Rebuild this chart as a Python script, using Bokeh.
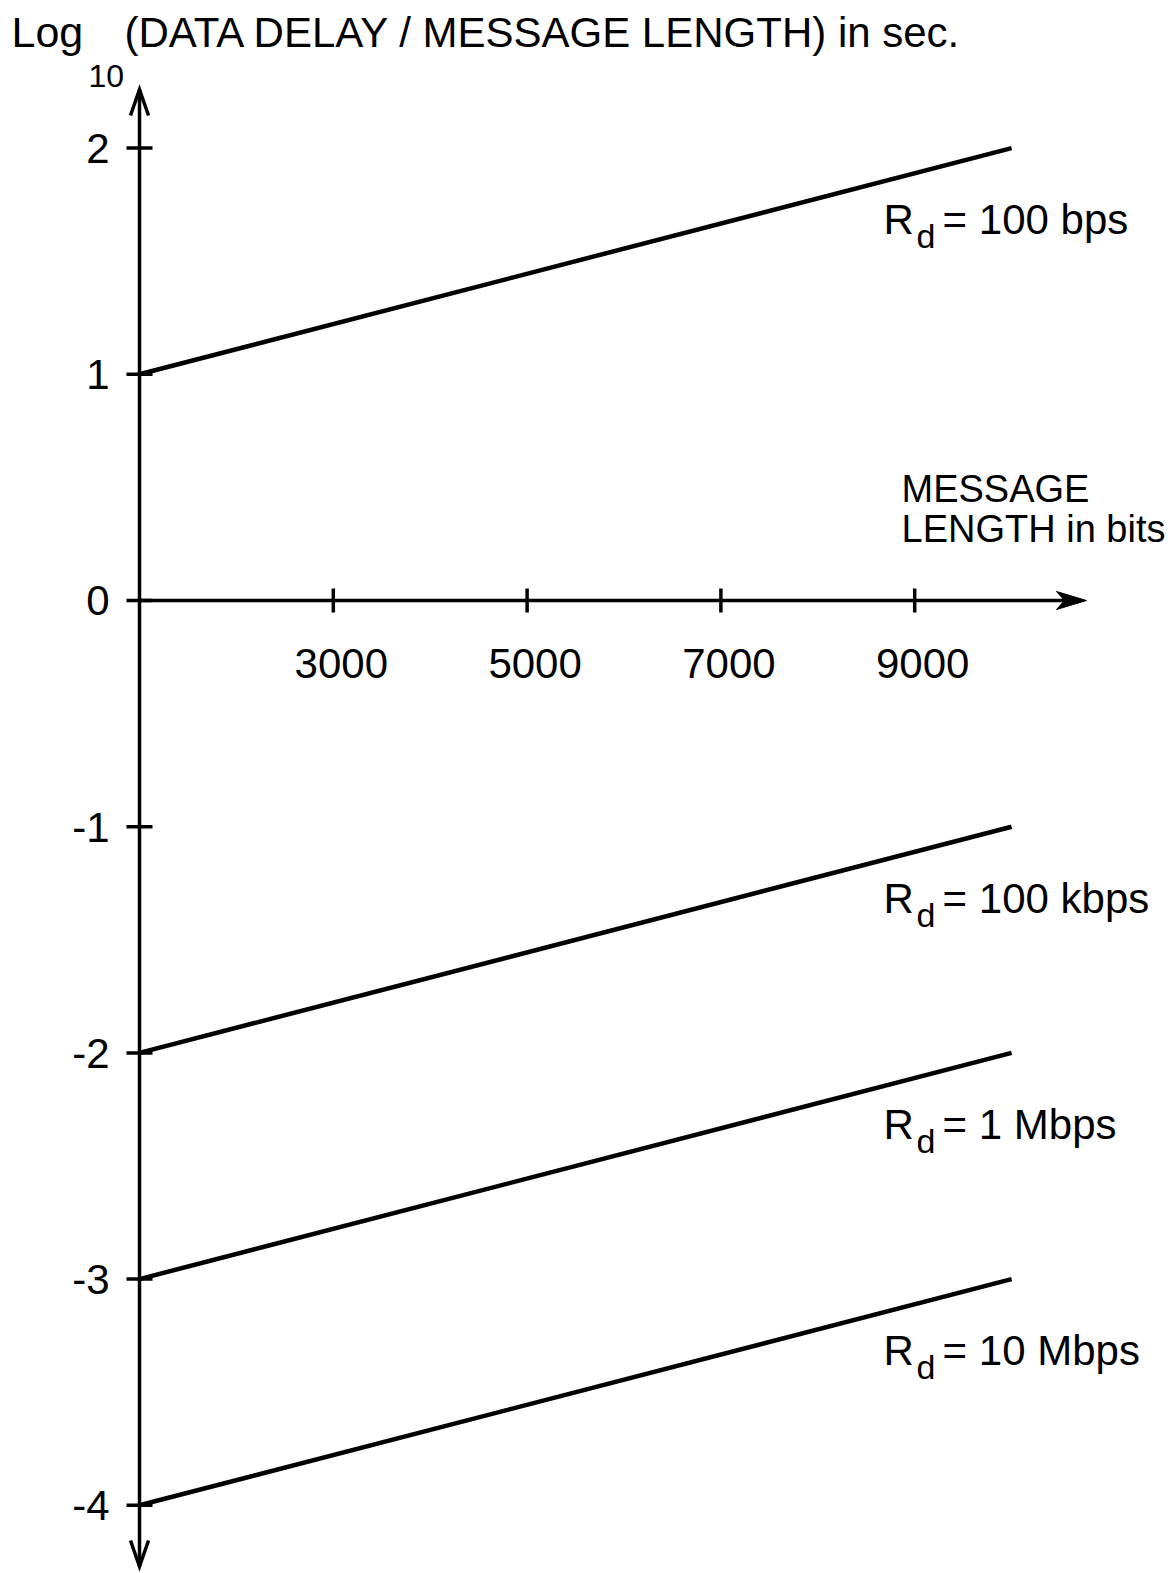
import numpy as np
from bokeh.plotting import figure
from bokeh.models import Range1d
from bokeh.embed import file_html
from bokeh.resources import INLINE
from bokeh.core.properties import value

# ---------------- data ----------------
msg_length = [1000, 10000]                      # bits (line start, line end)
rate_labels = ["= 100 bps", "= 100 kbps", "= 1 Mbps", "= 10 Mbps"]
log_start = [1, -2, -3, -4]                     # log10(delay/length) at 1000 bits
log_end = [2, -1, -2, -3]                       # log10(delay/length) at 10000 bits
x_ticks = [3000, 5000, 7000, 9000]
x_tick_labels = ["3000", "5000", "7000", "9000"]
y_ticks = [2, 1, 0, -1, -2, -3, -4]
y_tick_labels = ["2", "1", "0", "-1", "-2", "-3", "-4"]
title_log = "Log"
title_sub = "10"
title_main = "(DATA DELAY / MESSAGE LENGTH) in sec."
x_title = ["MESSAGE", "LENGTH in bits"]

# ---------------- layout (pixels) ----------------
W, H = 1175, 1573
XS = 0.0969          # px per bit
YS = 226.2           # px per log unit
AX_X_PX = 139        # px of the vertical axis (at 1000 bits)
AX_Y_PX = 600        # px of the horizontal axis (log = 0)
X_AXIS_AT = msg_length[0]
FONT = value("Liberation Sans")
BASE_FIX = 0.35      # em correction of the svg text baseline


def xd(px):
    return X_AXIS_AT + (px - AX_X_PX) / XS


def yd(py):
    return (AX_Y_PX - py) / YS


def base(y, size):
    # raise text so that its alphabetic baseline lands on y
    return y + BASE_FIX * size / YS


p = figure(width=W, height=H, output_backend="svg", toolbar_location=None,
           x_axis_location=None, y_axis_location=None, min_border=0,
           x_range=Range1d(xd(0), xd(W)),
           y_range=Range1d(yd(H), yd(0)))
p.outline_line_color = None
p.grid.visible = False
p.background_fill_color = "white"
p.border_fill_color = "white"

INK = "black"
LW = 3.5

# vertical axis with open arrow heads at both ends
y_top, y_bot = yd(89), yd(1566)
p.line(x=[X_AXIS_AT, X_AXIS_AT], y=[y_bot, y_top], line_width=LW, line_color=INK)
HL, HW = 26, 9
p.multi_line(xs=[[X_AXIS_AT - HW / XS, X_AXIS_AT, X_AXIS_AT + HW / XS]] * 2,
             ys=[[y_top - HL / YS, y_top, y_top - HL / YS],
                 [y_bot + HL / YS, y_bot, y_bot + HL / YS]],
             line_width=LW, line_color=INK, line_join="miter")

# horizontal axis with a filled barbed arrow head
x_tip = xd(1086)
p.line(x=[X_AXIS_AT, x_tip - 20 / XS], y=[0, 0], line_width=LW, line_color=INK)
p.patch(x=[x_tip, x_tip - 30 / XS, x_tip - 22 / XS, x_tip - 30 / XS],
        y=[0, 9 / YS, 0, -9 / YS], fill_color=INK, line_color=INK, line_width=1)

# tick marks crossing the axes
p.scatter(x=[X_AXIS_AT] * len(y_ticks), y=y_ticks, marker="dash", size=26,
          line_width=LW, line_color=INK)
p.scatter(x=x_ticks, y=[0] * len(x_ticks), marker="dash", angle=np.pi / 2, size=24,
          line_width=LW, line_color=INK)

# tick labels
p.text(x=[xd(109)] * len(y_ticks), y=[base(t - 15 / YS, 42) for t in y_ticks],
       text=y_tick_labels, text_font=FONT, text_font_size="42px", text_align="right",
       text_baseline="alphabetic", text_color=INK)
p.text(x=[t + 8 / XS for t in x_ticks], y=[base(-78 / YS, 42)] * len(x_ticks),
       text=x_tick_labels, text_font=FONT, text_font_size="42px", text_align="center",
       text_baseline="alphabetic", text_color=INK)

# series lines
p.multi_line(xs=[msg_length] * len(log_start),
             ys=[[a, b] for a, b in zip(log_start, log_end)],
             line_width=4.5, line_color=INK)

# series labels R_d = ...
x_end = msg_length[1]
p.text(x=[x_end - 128 / XS] * len(log_end), y=[base(e - 86 / YS, 42) for e in log_end],
       text=["R"] * len(log_end), text_font=FONT, text_font_size="42px",
       text_baseline="alphabetic", text_color=INK)
p.text(x=[x_end - 95 / XS] * len(log_end), y=[base(e - 100 / YS, 34) for e in log_end],
       text=["d"] * len(log_end), text_font=FONT, text_font_size="34px",
       text_baseline="alphabetic", text_color=INK)
p.text(x=[x_end - 69 / XS] * len(log_end), y=[base(e - 86 / YS, 42) for e in log_end],
       text=rate_labels, text_font=FONT, text_font_size="42px",
       text_baseline="alphabetic", text_color=INK)

# x-axis title
p.text(x=[xd(901)] * 2, y=[base(98 / YS, 38), base(58 / YS, 38)], text=x_title,
       text_font=FONT, text_font_size="38px", text_baseline="alphabetic", text_color=INK)

# y-axis title
p.text(x=[xd(11)], y=[base(yd(47), 43)], text=[title_log], text_font=FONT,
       text_font_size="43px", text_baseline="alphabetic", text_color=INK)
p.text(x=[xd(88)], y=[base(yd(87), 32)], text=[title_sub], text_font=FONT,
       text_font_size="32px", text_baseline="alphabetic", text_color=INK)
p.text(x=[xd(124)], y=[base(yd(47), 42)], text=[title_main], text_font=FONT,
       text_font_size="42px", text_baseline="alphabetic", text_color=INK)

open("out.html", "w").write(file_html(p, INLINE))
